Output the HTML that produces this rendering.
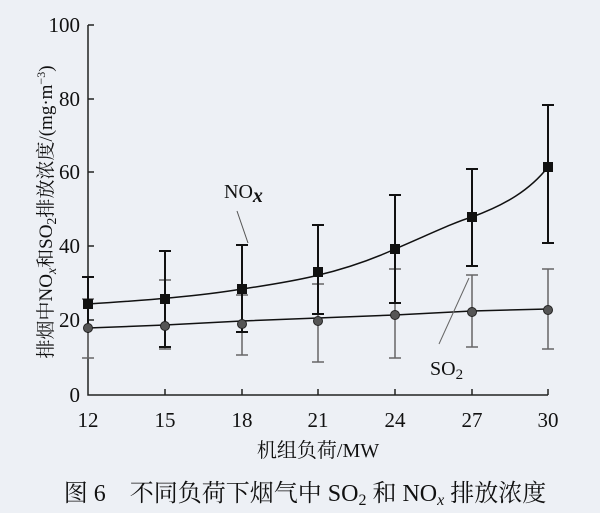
<!DOCTYPE html>
<html><head><meta charset="utf-8"><style>
html,body{margin:0;padding:0;background:#edf0f5;}
svg{display:block;font-family:"Liberation Serif","Noto Serif CJK SC",serif;}
</style></head><body>
<svg width="600" height="513" viewBox="0 0 600 513" xmlns="http://www.w3.org/2000/svg">
<rect width="600" height="513" fill="#edf0f5"/>
<g stroke="#222" stroke-width="1.5" fill="none">
<path d="M88 25 V395 H548"/>
<path d="M88 25h6M88 99h6M88 172h6M88 246h6M88 320h6"/>
<path d="M165 395v-6M242 395v-6M318 395v-6M395 395v-6M472 395v-6M548 395v-6"/>
</g>
<g font-size="21" fill="#111" text-anchor="end">
<text x="80" y="32">100</text><text x="80" y="106">80</text><text x="80" y="179">60</text>
<text x="80" y="253">40</text><text x="80" y="327">20</text><text x="80" y="402">0</text>
</g>
<g font-size="21" fill="#111" text-anchor="middle">
<text x="88" y="427">12</text><text x="165" y="427">15</text><text x="242" y="427">18</text>
<text x="318" y="427">21</text><text x="395" y="427">24</text><text x="472" y="427">27</text><text x="548" y="427">30</text>
</g>
<text x="318" y="457" font-size="20" text-anchor="middle" fill="#111">机组负荷/MW</text>
<text transform="translate(52,212) rotate(-90)" font-size="19" text-anchor="middle" fill="#111">排烟中NO<tspan font-style="italic" font-size="14" dy="4">x</tspan><tspan dy="-4">和SO</tspan><tspan font-size="14" dy="4">2</tspan><tspan dy="-4">排放浓度/(mg·m</tspan><tspan font-size="12" dy="-7">−3</tspan><tspan dy="7">)</tspan></text>
<g stroke="#666" stroke-width="1.5">
<path d="M88 299V358M82 299h12M82 358h12"/>
<path d="M165 280V349M159 280h12M159 349h12"/>
<path d="M242 295V355M236 295h12M236 355h12"/>
<path d="M318 284V362M312 284h12M312 362h12"/>
<path d="M395 269V358M389 269h12M389 358h12"/>
<path d="M472 275V347M466 275h12M466 347h12"/>
<path d="M548 269V349M542 269h12M542 349h12"/>
</g>
<g stroke="#111" stroke-width="2">
<path d="M88 277V333M82 277h12"/>
<path d="M165 251V347M159 251h12M159 347h12"/>
<path d="M242 245V332M236 245h12M236 332h12"/>
<path d="M318 225V314M312 225h12M312 314h12"/>
<path d="M395 195V303M389 195h12M389 303h12"/>
<path d="M472 169V266M466 169h12M466 266h12"/>
<path d="M548 105V243M542 105h12M542 243h12"/>
</g>
<path d="M88 328 L165 325 L242 321 L318 318 L395 315 L472 311 L548 309" stroke="#111" stroke-width="1.5" fill="none"/>
<path d="M88 304 C150 300 200 296 242 289 C290 282 340 274 395 249 C430 234 455 222 472 217 C505 205 530 190 548 167" stroke="#111" stroke-width="1.5" fill="none"/>
<g fill="#555" stroke="#222" stroke-width="1">
<circle cx="88" cy="328" r="4.5"/><circle cx="165" cy="326" r="4.5"/><circle cx="242" cy="324" r="4.5"/>
<circle cx="318" cy="321" r="4.5"/><circle cx="395" cy="315" r="4.5"/><circle cx="472" cy="312" r="4.5"/><circle cx="548" cy="310" r="4.5"/>
</g>
<g fill="#111">
<rect x="83" y="299" width="10" height="10"/><rect x="160" y="294" width="10" height="10"/><rect x="237" y="284" width="10" height="10"/>
<rect x="313" y="267" width="10" height="10"/><rect x="390" y="244" width="10" height="10"/><rect x="467" y="212" width="10" height="10"/><rect x="543" y="162" width="10" height="10"/>
</g>
<text x="224" y="198" font-size="20" fill="#111">NO<tspan font-style="italic" font-weight="bold" dy="4">x</tspan></text>
<path d="M237 211 L248 243" stroke="#555" stroke-width="1"/>
<text x="430" y="375" font-size="20" fill="#111">SO<tspan font-size="15" dy="4">2</tspan></text>
<path d="M439 344 L469 278" stroke="#666" stroke-width="1"/>
<text x="305" y="501" font-size="24" text-anchor="middle" fill="#111">图 6　不同负荷下烟气中 SO<tspan font-size="16" dy="4">2</tspan><tspan dy="-4"> 和 NO</tspan><tspan font-size="16" font-style="italic" dy="4">x</tspan><tspan dy="-4"> 排放浓度</tspan></text>
</svg>
</body></html>
